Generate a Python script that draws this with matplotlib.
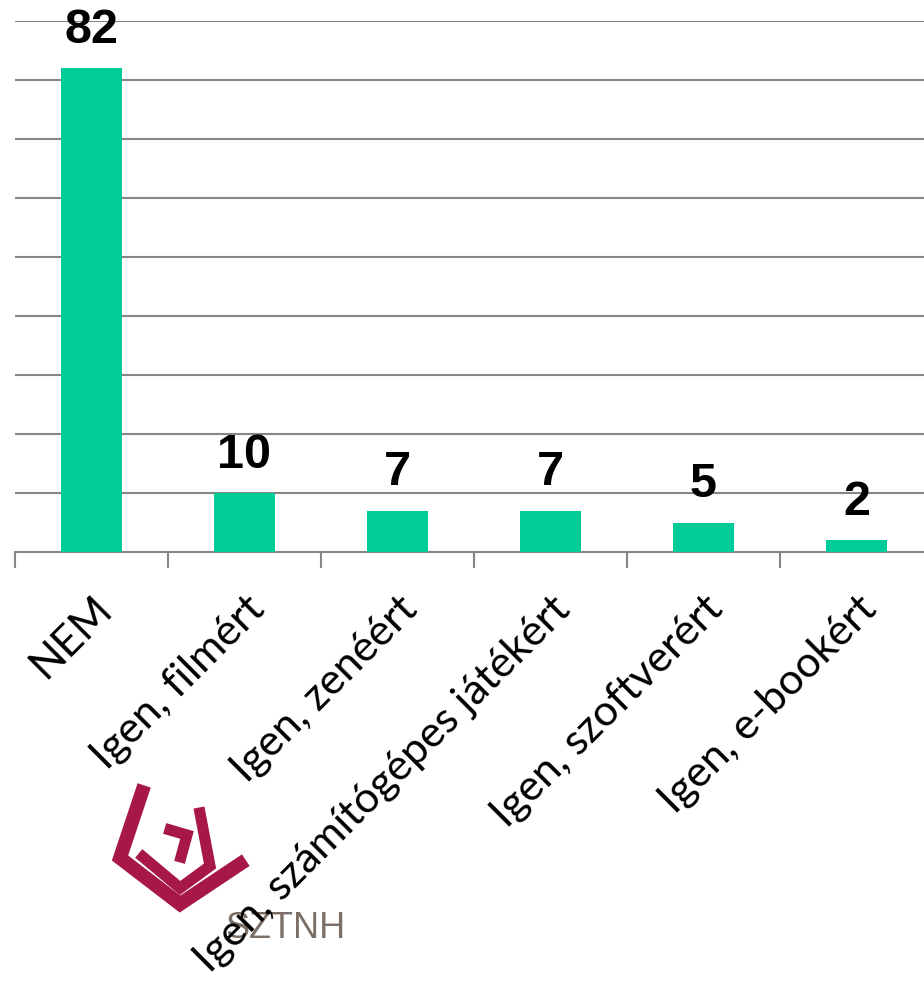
import matplotlib
matplotlib.use('Agg')
import matplotlib.pyplot as plt
from matplotlib.lines import Line2D

categories = ['NEM', 'Igen, filmért', 'Igen, zenéért', 'Igen, számítógépes játékért',
              'Igen, szoftverért', 'Igen, e-bookért']
values = [82, 10, 7, 7, 5, 2]

bar_color = '#00CC99'
grid_color = '#868686'

fig = plt.figure(figsize=(9.24, 9.91), dpi=100)
W, H = 924, 991
ax = fig.add_axes([15 / W, (H - 552) / H, 918 / W, (552 - 21) / H])

x = range(len(categories))
ax.bar(x, values, width=0.4, color=bar_color, zorder=3)
for i, v in enumerate(values):
    ax.annotate(str(v), (i, v), xytext=(0, 11), textcoords='offset points',
                ha='center', va='bottom', fontsize=35, fontweight='bold',
                family='Liberation Sans', annotation_clip=False)

ax.set_xlim(-0.5, len(categories) - 0.5)
ax.set_ylim(0, 90)
ax.set_yticks(range(10, 91, 10))
ax.yaxis.grid(True, color=grid_color, linewidth=1.5)
ax.tick_params(axis='y', left=False, labelleft=False)

ax.set_xticks(list(x))
ax.set_xticklabels(categories, rotation=45, ha='right', rotation_mode='anchor',
                   fontsize=31, family='Lato')
ax.tick_params(axis='x', which='major', length=0, pad=27)
ax.set_xticks([i - 0.5 for i in range(len(categories) + 1)], minor=True)
ax.tick_params(axis='x', which='minor', length=11.5, width=1.5, color=grid_color)

for side in ['top', 'right', 'left']:
    ax.spines[side].set_visible(False)
ax.spines['bottom'].set_color(grid_color)
ax.spines['bottom'].set_linewidth(1.5)

# SZTNH logo
logo = '#A8174A'
def px(xs, ys):
    return [a / W for a in xs], [1 - b / H for b in ys]

for xs, ys, lw in [([142, 120, 180, 240], [792, 858, 904, 864], 10),
                   ([143, 180, 210, 200], [857, 888, 866, 813], 8),
                   ([170, 187, 181], [830, 835, 857], 8)]:
    fx, fy = px(xs, ys)
    fig.add_artist(Line2D(fx, fy, color=logo, linewidth=lw, solid_joinstyle='miter',
                          zorder=-1))
fig.text(225 / W, 1 - 929 / H, 'SZTNH', color='#7a6e66', fontsize=26,
         family='Liberation Sans', va='center', ha='left', zorder=-1)

fig.savefig('out.png', dpi=100)
